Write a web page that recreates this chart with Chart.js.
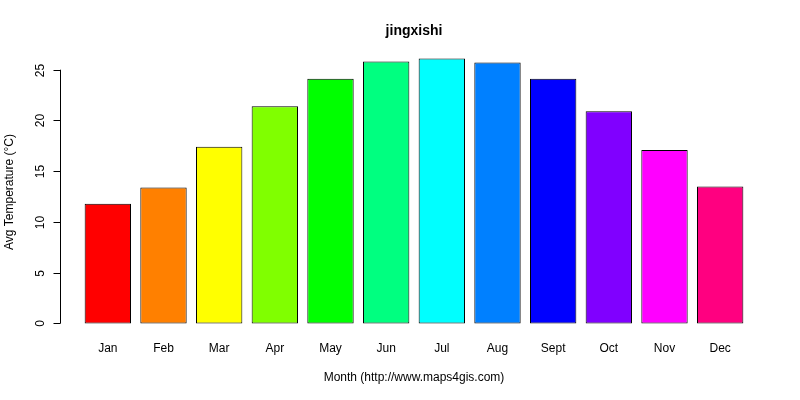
<!DOCTYPE html>
<html><head><meta charset="utf-8">
<script src="https://cdn.jsdelivr.net/npm/chart.js@4/dist/chart.umd.min.js"></script>
<style>html,body{margin:0;padding:0;background:#fff}#w{width:800px;height:400px}</style>
</head><body><div id="w"><canvas id="c"></canvas></div>
<script>
const months = ["Jan","Feb","Mar","Apr","May","Jun","Jul","Aug","Sept","Oct","Nov","Dec"];
const temps = [11.8,13.4,17.4,21.4,24.1,25.8,26.1,25.7,24.1,20.9,17.1,13.5];
const colors = ["#FF0000","#FF8000","#FFFF00","#80FF00","#00FF00","#00FF80","#00FFFF","#0080FF","#0000FF","#8000FF","#FF00FF","#FF0080"];
const yTicks = [0,5,10,15,20,25];
const F = "'Liberation Sans', Arial, sans-serif";
const deco = {
  id:'deco',
  afterDraw(ch){
    const c = ch.ctx, y = ch.scales.y, x = ch.scales.x;
    c.save();
    c.strokeStyle='#000'; c.fillStyle='#000'; c.lineWidth=1;
    const ax=60.5;
    c.beginPath(); c.moveTo(ax,y.getPixelForValue(0)); c.lineTo(ax,y.getPixelForValue(25)); c.stroke();
    c.font="12px "+F; c.textAlign='center'; c.textBaseline='middle';
    yTicks.forEach(v=>{const p=Math.round(y.getPixelForValue(v))+0.5;
      c.beginPath(); c.moveTo(ax,p); c.lineTo(ax-7,p); c.stroke();
      c.save(); c.translate(41,p); c.rotate(-Math.PI/2); c.fillText(String(v),0,0); c.restore();});
    months.forEach((m,i)=>c.fillText(m,x.getPixelForValue(i),349));
    c.fillText("Month (http://www.maps4gis.com)",414,378);
    c.save(); c.translate(10,192); c.rotate(-Math.PI/2); c.fillText("Avg Temperature (°C)",0,0); c.restore();
    c.font="bold 14px "+F; c.fillText("jingxishi",414,31);
    c.restore();
  }
};
new Chart(document.getElementById('c'),{
  type:'bar',
  data:{labels:months,datasets:[{data:temps,backgroundColor:colors,borderColor:'#000',borderWidth:1,borderSkipped:false,barPercentage:0.833,categoryPercentage:1}]},
  options:{responsive:true,maintainAspectRatio:false,animation:false,
    layout:{padding:{left:80,right:52,top:48,bottom:66}},
    plugins:{legend:{display:false},tooltip:{enabled:false}},
    scales:{x:{display:false},y:{display:false,min:-1.044,max:27.14}}},
  plugins:[deco]
});
</script></body></html>
